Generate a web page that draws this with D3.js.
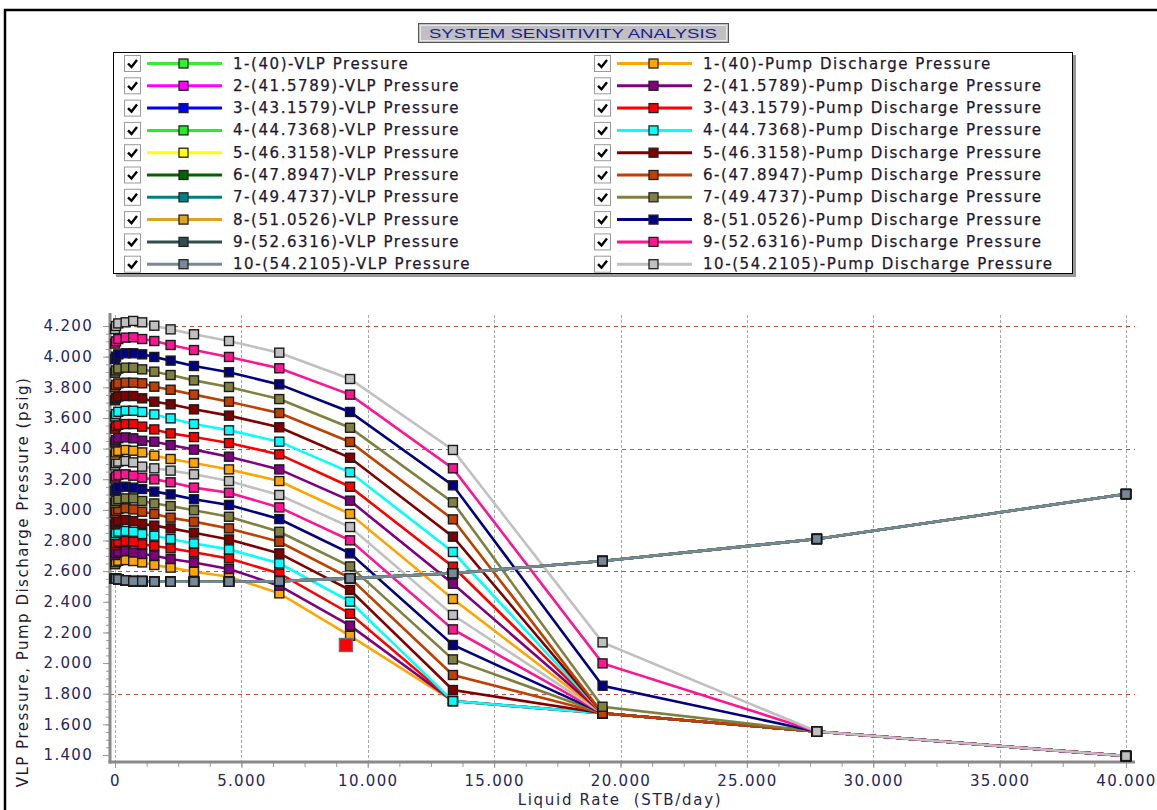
<!DOCTYPE html>
<html>
<head>
<meta charset="utf-8">
<script src="https://cdn.jsdelivr.net/npm/d3@7"></script>
<style>
  body { margin: 0; background: #fff; }
  text { font-family: "DejaVu Sans", Verdana, sans-serif; }
</style>
</head>
<body>
<script>
var width = 1157,
    height = 810,
    plotLeft = 110,
    plotRight = 1135,
    plotTop = 315,
    plotBottom = 762
;

// data
var rates = [0, 40, 130, 420, 720, 1075, 1555, 2200, 3125, 4510, 6500, 9300, 13370, 19290, 27770, 40000];
var freqs = ["40", "41.5789", "43.1579", "44.7368", "46.3158", "47.8947", "49.4737", "51.0526", "52.6316", "54.2105"];

// all ten VLP curves coincide
var vlpPressure = [2550, 2550, 2547, 2540, 2535, 2535, 2531, 2531, 2531, 2531, 2535, 2553, 2586, 2666, 2810, 3103];

// pump discharge pressure, upper branch, series 1..10
var pumpUpper = [
    [3360, 3375, 3385, 3391, 3386, 3375, 3354, 3332, 3306, 3264, 3188, 2973, 2418, 1672, 1553, 1393],
    [3440, 3455, 3468, 3473, 3467, 3451, 3445, 3423, 3393, 3347, 3264, 3060, 2518, 1672, 1553, 1393],
    [3530, 3545, 3555, 3560, 3560, 3543, 3525, 3499, 3475, 3436, 3362, 3151, 2629, 1672, 1553, 1393],
    [3610, 3625, 3640, 3647, 3647, 3639, 3623, 3597, 3560, 3519, 3445, 3245, 2725, 1672, 1553, 1393],
    [3715, 3730, 3740, 3743, 3743, 3728, 3706, 3689, 3656, 3615, 3539, 3340, 2825, 1672, 1553, 1393],
    [3800, 3815, 3825, 3830, 3830, 3826, 3804, 3784, 3752, 3706, 3632, 3443, 2938, 1672, 1553, 1393],
    [3895, 3910, 3922, 3928, 3928, 3917, 3902, 3880, 3845, 3802, 3723, 3536, 3049, 1715, 1553, 1393],
    [3985, 4000, 4015, 4022, 4022, 4015, 3998, 3974, 3939, 3898, 3819, 3639, 3160, 1852, 1553, 1393],
    [4085, 4100, 4115, 4124, 4126, 4115, 4102, 4076, 4043, 3998, 3924, 3752, 3271, 1998, 1553, 1393],
    [4180, 4200, 4217, 4224, 4233, 4224, 4202, 4178, 4146, 4102, 4026, 3854, 3391, 2135, 1553, 1393]
];

// pump discharge pressure, lower branch, series 1..10
var pumpLower = [
    [2645, 2658, 2668, 2672, 2666, 2657, 2640, 2623, 2596, 2564, 2455, 2178, 1752, 1672, 1553, 1393],
    [2705, 2718, 2728, 2731, 2722, 2712, 2701, 2679, 2657, 2614, 2505, 2244, 1752, 1672, 1553, 1393],
    [2770, 2783, 2793, 2797, 2792, 2775, 2764, 2749, 2723, 2683, 2585, 2322, 1752, 1672, 1553, 1393],
    [2835, 2848, 2858, 2862, 2857, 2842, 2831, 2810, 2781, 2742, 2651, 2401, 1752, 1672, 1553, 1393],
    [2905, 2918, 2930, 2934, 2927, 2908, 2897, 2879, 2851, 2807, 2716, 2477, 1824, 1672, 1553, 1393],
    [2980, 2993, 3005, 3010, 3003, 2988, 2973, 2949, 2923, 2879, 2792, 2555, 1922, 1672, 1553, 1393],
    [3045, 3058, 3070, 3075, 3075, 3058, 3042, 3025, 2997, 2955, 2857, 2631, 2024, 1672, 1553, 1393],
    [3125, 3138, 3148, 3151, 3145, 3136, 3119, 3101, 3069, 3032, 2940, 2716, 2118, 1672, 1553, 1393],
    [3205, 3218, 3228, 3232, 3223, 3210, 3199, 3180, 3145, 3112, 3016, 2801, 2220, 1672, 1553, 1393],
    [3290, 3305, 3315, 3319, 3310, 3282, 3271, 3256, 3232, 3188, 3097, 2888, 2314, 1672, 1553, 1393]
];

var opPoint = [9137, 2118];
var refLines = [4200, 3400, 2600, 1800];

var vlpColors = ["#33ee33", "#ff00ff", "#0000ff", "#22ee22", "#ffff00", "#006400", "#008080", "#daa520", "#2f4f4f", "#778899"];
var pumpColors = ["#ffa500", "#800080", "#ff0000", "#00ffff", "#800000", "#c04000", "#808040", "#000080", "#ff1493", "#c0c0c0"];

var locale = d3.formatLocale({decimal: ",", thousands: ".", grouping: [3], currency: ["", ""]});
var fmt = locale.format(",.0f");

var svg = d3.select("body").append("svg")
    .attr("width", width)
    .attr("height", height)
;

// outer frame
svg.append("rect")
    .attr("x", 5).attr("y", 10)
    .attr("width", width + 20).attr("height", height + 20)
    .attr("fill", "none").attr("stroke", "#000").attr("stroke-width", 2.5)
;

// title box
svg.append("rect")
    .attr("x", 418.5).attr("y", 23.5).attr("width", 310).attr("height", 19)
    .attr("fill", "#bfbfc4").attr("stroke", "#555").attr("stroke-width", 1)
;
svg.append("rect")
    .attr("x", 420.5).attr("y", 25.5).attr("width", 306).attr("height", 15)
    .attr("fill", "none").attr("stroke", "#e8e8e8").attr("stroke-width", 1)
;
svg.append("text")
    .attr("x", 573).attr("y", 37.5)
    .attr("text-anchor", "middle")
    .attr("textLength", 288).attr("lengthAdjust", "spacingAndGlyphs")
    .style("font-family", "'Liberation Sans Narrow', 'Liberation Sans', sans-serif")
    .style("font-size", "13px")
    .attr("fill", "#1c1c8c")
    .text("SYSTEM SENSITIVITY ANALYSIS")
;

// legend
svg.append("rect")
    .attr("x", 116).attr("y", 55).attr("width", 960).attr("height", 222)
    .attr("fill", "#999")
;
svg.append("rect")
    .attr("x", 113.5).attr("y", 52.5).attr("width", 959).attr("height", 221)
    .attr("fill", "#fff").attr("stroke", "#000").attr("stroke-width", 1)
;

var legendItems = [];
freqs.forEach(function(f, i) {
    legendItems.push({label: (i + 1) + "-(" + f + ")-VLP Pressure", color: vlpColors[i], col: 0, row: i});
    legendItems.push({label: (i + 1) + "-(" + f + ")-Pump Discharge Pressure", color: pumpColors[i], col: 1, row: i});
});

var colX = [124, 594];
var lg = svg.append("g").selectAll("g")
    .data(legendItems)
    .join("g")
    .attr("transform", function(d) { return "translate(" + colX[d.col] + "," + (63 + d.row * 22.3) + ")"; })
;
lg.append("rect")
    .attr("x", 0.5).attr("y", -7.5).attr("width", 16).attr("height", 16)
    .attr("fill", "#fff").attr("stroke", "#9a9a9a")
;
lg.append("path")
    .attr("d", "M4,0.5 L7.5,4 L13,-3")
    .attr("fill", "none").attr("stroke", "#000").attr("stroke-width", 2.4)
;
lg.append("line")
    .attr("x1", 23).attr("x2", 98).attr("y1", 0.5).attr("y2", 0.5)
    .attr("stroke", function(d) { return d.color; }).attr("stroke-width", 3)
;
lg.append("rect")
    .attr("x", 55).attr("y", -4).attr("width", 9).attr("height", 9)
    .attr("fill", function(d) { return d.color; }).attr("stroke", "#222").attr("stroke-width", 1.3)
;
lg.append("text")
    .attr("x", 109).attr("y", 5.5)
    .style("font-size", "15px").style("letter-spacing", "1.55px")
    .attr("fill", "#1e1830").attr("stroke", "#1e1830").attr("stroke-width", 0.25)
    .text(function(d) { return d.label; })
;

// scales
var x = d3.scaleLinear().domain([0, 40000]).range([115, 1126]);
var y = d3.scaleLinear().domain([1400, 4200]).range([755, 326]);

// vertical grid
svg.append("g").selectAll("line")
    .data(d3.range(0, 40001, 5000))
    .join("line")
    .attr("x1", function(d) { return Math.round(x(d)) + 0.5; })
    .attr("x2", function(d) { return Math.round(x(d)) + 0.5; })
    .attr("y1", plotTop).attr("y2", plotBottom)
    .attr("stroke", "#a8a8a8").attr("stroke-dasharray", "3,2")
;

// red reference lines
svg.append("g").selectAll("line")
    .data(refLines)
    .join("line")
    .attr("x1", plotLeft).attr("x2", plotRight)
    .attr("y1", function(d) { return Math.round(y(d)) + 0.5; })
    .attr("y2", function(d) { return Math.round(y(d)) + 0.5; })
    .attr("stroke", "#d04848").attr("stroke-width", 1.2).attr("stroke-dasharray", "4,4")
;

// axes
var yAxisMinor = d3.axisLeft(y).tickValues(d3.range(1400, 4201, 50)).tickSize(4).tickFormat("");
var yAxis = d3.axisLeft(y).tickValues(d3.range(1400, 4201, 200)).tickSize(7).tickPadding(10).tickFormat(fmt);
var xAxisMinor = d3.axisBottom(x).tickValues(d3.range(0, 40001, 1250)).tickSize(5).tickFormat("");
var xAxis = d3.axisBottom(x).tickValues(d3.range(0, 40001, 5000)).tickSize(6).tickPadding(7).tickFormat(fmt);

[yAxisMinor, yAxis].forEach(function(ax) {
    var g = svg.append("g").attr("transform", "translate(" + plotLeft + ",0)").call(ax);
    g.select(".domain").remove();
    g.selectAll(".tick line").attr("stroke", "#9a9a9a");
    g.selectAll("text").style("font-size", "15px").style("letter-spacing", "1.3px")
        .style("font-family", "'DejaVu Sans', Verdana, sans-serif").attr("fill", "#262660");
});
[xAxisMinor, xAxis].forEach(function(ax) {
    var g = svg.append("g").attr("transform", "translate(0," + plotBottom + ")").call(ax);
    g.select(".domain").remove();
    g.selectAll(".tick line").attr("stroke", "#9a9a9a");
    g.selectAll("text").style("font-size", "15px").style("letter-spacing", "1.3px")
        .style("font-family", "'DejaVu Sans', Verdana, sans-serif").attr("fill", "#262660");
});

// axis lines
svg.append("line")
    .attr("x1", plotLeft).attr("x2", plotLeft).attr("y1", plotTop - 2).attr("y2", plotBottom + 1.5)
    .attr("stroke", "#8a8a8a").attr("stroke-width", 3)
;
svg.append("line")
    .attr("x1", plotLeft - 1.5).attr("x2", plotRight).attr("y1", plotBottom).attr("y2", plotBottom)
    .attr("stroke", "#8a8a8a").attr("stroke-width", 3)
;

// axis titles
svg.append("text")
    .attr("transform", "translate(28,582) rotate(-90)")
    .attr("text-anchor", "middle")
    .style("font-size", "15px").style("letter-spacing", "1.5px")
    .attr("fill", "#1e1a30")
    .text("VLP Pressure, Pump Discharge Pressure (psig)")
;
svg.append("text")
    .attr("x", 620).attr("y", 805)
    .attr("text-anchor", "middle")
    .style("font-size", "15px").style("letter-spacing", "1.7px").style("white-space", "pre")
    .attr("fill", "#2a1f4a")
    .text("Liquid Rate  (STB/day)")
;

// series
var line = d3.line()
    .x(function(d, i) { return x(rates[i]); })
    .y(function(d) { return y(d); })
;

var pumpSeries = [];
pumpLower.forEach(function(v, i) { pumpSeries.push({values: v, color: pumpColors[i]}); });
pumpUpper.forEach(function(v, i) { pumpSeries.push({values: v, color: pumpColors[i]}); });
var vlpSeries = vlpColors.map(function(c) { return {values: vlpPressure, color: c}; });
var allSeries = pumpSeries.concat(vlpSeries);

svg.append("g").selectAll("path")
    .data(allSeries)
    .join("path")
    .attr("d", function(d) { return line(d.values); })
    .attr("fill", "none")
    .attr("stroke", function(d) { return d.color; })
    .attr("stroke-width", 2.6)
;

var markerG = svg.append("g");
allSeries.forEach(function(s) {
    markerG.append("g").selectAll("rect")
        .data(s.values)
        .join("rect")
        .attr("x", function(d, i) { return x(rates[i]) - 4.5; })
        .attr("y", function(d) { return y(d) - 4.5; })
        .attr("width", 9).attr("height", 9)
        .attr("fill", s.color)
        .attr("stroke", "#1a1a1a").attr("stroke-width", 1.4)
    ;
});

// operating point
svg.append("rect")
    .attr("x", x(opPoint[0]) - 6.5).attr("y", y(opPoint[1]) - 6.5)
    .attr("width", 13).attr("height", 13)
    .attr("fill", "#ff0000").attr("stroke", "#6a6a7a").attr("stroke-width", 1.4)
;
</script>
</body>
</html>
